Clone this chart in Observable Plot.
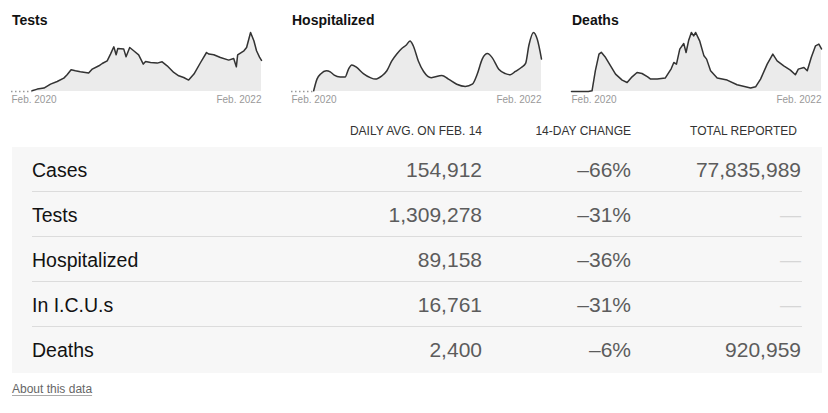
<!DOCTYPE html>
<html><head><meta charset="utf-8">
<script src="https://cdn.jsdelivr.net/npm/d3@7"></script>
<script src="https://cdn.jsdelivr.net/npm/@observablehq/plot@0.6"></script>
<style>
body{margin:0;background:#fff;font-family:"Liberation Sans",Arial,sans-serif;}
#root{position:relative;width:828px;height:413px;overflow:hidden;}
.title{position:absolute;top:11px;font-weight:bold;font-size:14px;color:#121212;line-height:18px;white-space:nowrap;}
.spark{position:absolute;top:28px;}
.hdr{position:absolute;font-size:12px;color:#333;line-height:16px;white-space:nowrap;text-align:right;}
.bg{position:absolute;left:12px;top:147px;width:810px;height:226px;background:#f7f7f7;}
.sep{position:absolute;left:32px;width:770px;height:1px;background:#dcdcdc;}
.lab{position:absolute;left:32px;font-size:19.5px;line-height:24px;color:#121212;white-space:nowrap;}
.val{position:absolute;font-size:21px;line-height:24px;color:#5c5c5c;white-space:nowrap;text-align:right;}
.dash{color:#d6d6d6;}
.about{position:absolute;left:12px;top:381px;font-size:12px;line-height:16px;color:#666;text-decoration:underline;text-decoration-color:#aaa;text-underline-offset:2px;}
</style></head>
<body><div id="root"></div>
<script>
const chartTitles = ["Tests","Hospitalized","Deaths"];
const tickLabels = ["Feb. 2020","Feb. 2022"];
const xDomain = ["2020-01-21","2022-02-14"];

const testsDates = ["2020-03-23","2020-04-08","2020-04-28","2020-05-18","2020-06-07","2020-06-27","2020-07-07","2020-07-19","2020-08-01","2020-08-16","2020-09-10","2020-09-21","2020-10-11","2020-10-21","2020-11-05","2020-11-15","2020-11-25","2020-12-02","2020-12-07","2020-12-25","2021-01-01","2021-01-12","2021-01-24","2021-02-08","2021-02-22","2021-03-01","2021-03-16","2021-04-05","2021-04-20","2021-05-05","2021-05-25","2021-06-09","2021-06-24","2021-07-09","2021-07-25","2021-08-14","2021-09-01","2021-09-08","2021-09-23","2021-10-13","2021-11-07","2021-11-22","2021-11-30","2021-12-04","2021-12-23","2021-12-31","2022-01-12","2022-01-22","2022-01-30","2022-02-08","2022-02-14"];
const testsValues = [30000,101000,143000,312000,422000,565000,705000,916000,874000,831000,776000,945000,1085000,1182000,1296000,1578000,1886000,1549000,1815000,1789000,1464000,1857000,1718000,1549000,1156000,1266000,1224000,1198000,1253000,1085000,802000,663000,591000,481000,734000,1224000,1646000,1578000,1549000,1435000,1325000,1393000,1042000,1549000,1718000,1857000,2490000,2140000,1718000,1450000,1309278];

const hospDates = ["2020-03-28","2020-04-07","2020-04-19","2020-05-05","2020-05-17","2020-05-29","2020-06-16","2020-07-01","2020-07-11","2020-07-21","2020-08-05","2020-08-25","2020-09-15","2020-09-30","2020-10-20","2020-11-04","2020-11-19","2020-12-04","2020-12-19","2021-01-01","2021-01-13","2021-01-23","2021-02-07","2021-02-23","2021-03-18","2021-04-19","2021-05-09","2021-06-03","2021-06-29","2021-07-20","2021-08-04","2021-08-19","2021-09-04","2021-09-18","2021-10-08","2021-10-28","2021-11-12","2021-11-27","2021-12-15","2021-12-28","2022-01-07","2022-01-21","2022-02-01","2022-02-14"];
const hospValues = [2000,34000,49000,57000,54000,45000,40000,40000,61000,73000,66000,49000,38000,34000,43000,57000,84000,103000,118000,127000,139000,125000,84000,55000,38000,44000,34000,20000,14000,20000,48000,89000,104000,93000,61000,49000,46000,55000,66000,77000,127000,162000,144000,89158];

const deathsDates = ["2020-01-21","2020-03-12","2020-03-23","2020-04-02","2020-04-13","2020-04-20","2020-05-03","2020-05-18","2020-06-02","2020-06-22","2020-07-07","2020-07-22","2020-08-06","2020-08-21","2020-09-07","2020-09-16","2020-10-06","2020-10-30","2020-11-17","2020-11-25","2020-12-03","2020-12-13","2020-12-25","2021-01-01","2021-01-09","2021-01-17","2021-01-24","2021-01-30","2021-02-11","2021-02-24","2021-03-04","2021-03-16","2021-04-05","2021-05-05","2021-06-04","2021-07-15","2021-07-30","2021-08-14","2021-09-03","2021-09-20","2021-10-03","2021-10-23","2021-11-12","2021-11-27","2021-12-06","2021-12-23","2022-01-02","2022-01-14","2022-01-27","2022-02-06","2022-02-14"];
const deathsValues = [0,0,40,1167,2109,2210,1918,1450,981,643,508,829,1072,1015,829,699,699,756,1280,1636,1545,2391,2707,2200,2899,3330,3141,3330,2860,2013,1827,1167,756,643,378,192,265,699,1545,2109,1731,1450,1207,942,1263,1354,1167,1918,2578,2673,2400];

const rowLabels = ["Cases","Tests","Hospitalized","In I.C.U.s","Deaths"];
const columnHeaders = ["DAILY AVG. ON FEB. 14","14-DAY CHANGE","TOTAL REPORTED"];
const dailyAvg = [154912,1309278,89158,16761,2400];
const change14 = [-66,-31,-36,-31,-6];
const totalReported = [77835989,null,null,null,920959];
const footnote = "About this data";

const root = document.getElementById("root");
const domain = xDomain.map(d => new Date(d));

function spark(dates, values, dotted, curve) {
  const data = dates.map((d, i) => ({date: new Date(d), value: values[i]}));
  const marks = [Plot.areaY(data, {x: "date", y: "value", fill: "#ebebeb", curve})];
  if (dotted) marks.push(Plot.ruleY([0], {x1: () => domain[0], x2: () => data[0].date, stroke: "#999", strokeWidth: 1.5, strokeDasharray: "1.5,2.5"}));
  marks.push(Plot.lineY(data, {x: "date", y: "value", stroke: "#333", strokeWidth: 1.5, curve}));
  marks.push(Plot.text([domain[0]], {x: d => d, text: () => tickLabels[0], frameAnchor: "bottom", lineAnchor: "top", textAnchor: "start", dy: 4, fill: "#999", fontSize: 10}));
  marks.push(Plot.text([domain[1]], {x: d => d, text: () => tickLabels[1], frameAnchor: "bottom", lineAnchor: "top", textAnchor: "end", dy: 4, fill: "#999", fontSize: 10}));
  return Plot.plot({
    width: 250, height: 80, marginLeft: 0, marginRight: 0, marginTop: 4, marginBottom: 17,
    x: {type: "utc", domain, axis: null},
    y: {domain: [0, d3.max(values)], axis: null},
    style: {fontFamily: "Liberation Sans, Arial, sans-serif", background: "transparent", overflow: "visible"},
    marks
  });
}

const series = [[testsDates, testsValues, true, "linear"], [hospDates, hospValues, true, "monotone-x"], [deathsDates, deathsValues, false, "linear"]];
series.forEach((s, i) => {
  const t = document.createElement("div");
  t.className = "title"; t.style.left = (12 + 280 * i) + "px"; t.textContent = chartTitles[i];
  root.appendChild(t);
  const w = document.createElement("div");
  w.className = "spark"; w.style.left = (11 + 280 * i) + "px";
  w.appendChild(spark(...s));
  root.appendChild(w);
});

// table
const colRight = [482, 631, 801];
const hdrRight = [482, 631, 797];
columnHeaders.forEach((h, j) => {
  const d = document.createElement("div");
  d.className = "hdr"; d.style.right = (828 - hdrRight[j]) + "px"; d.style.top = "123px"; d.textContent = h;
  root.appendChild(d);
});
const bg = document.createElement("div"); bg.className = "bg"; root.appendChild(bg);
for (let i = 0; i < rowLabels.length - 1; i++) {
  const s = document.createElement("div"); s.className = "sep"; s.style.top = (191 + 45 * i) + "px"; root.appendChild(s);
}
const fmt = d3.format(",");
rowLabels.forEach((r, i) => {
  const top = 157.5 + 45 * i;
  const l = document.createElement("div"); l.className = "lab"; l.style.top = top + "px"; l.textContent = r; root.appendChild(l);
  const cells = [fmt(dailyAvg[i]), "\u2013" + Math.abs(change14[i]) + "%", totalReported[i] == null ? "\u2014" : fmt(totalReported[i])];
  cells.forEach((c, j) => {
    const v = document.createElement("div"); v.className = "val" + (c === "\u2014" ? " dash" : "");
    v.style.right = (828 - colRight[j]) + "px"; v.style.top = top + "px"; v.textContent = c;
    root.appendChild(v);
  });
});
const a = document.createElement("div"); a.className = "about"; a.textContent = footnote; root.appendChild(a);
</script></body></html>
